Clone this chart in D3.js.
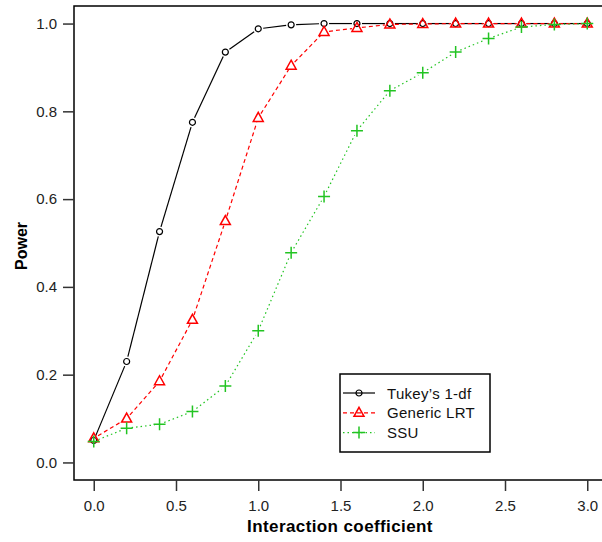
<!DOCTYPE html>
<html>
<head>
<meta charset="utf-8">
<script src="https://cdn.jsdelivr.net/npm/d3@7"></script>
<style>
  body { margin: 0; background: #fff; }
  svg { font-family: "Liberation Sans", Arial, sans-serif; }
</style>
</head>
<body>
<svg width="602" height="542"></svg>
<script>
// data
const coef = [0, 0.2, 0.4, 0.6, 0.8, 1.0, 1.2, 1.4, 1.6, 1.8, 2.0, 2.2, 2.4, 2.6, 2.8, 3.0];
const tukey = [0.05, 0.23, 0.526, 0.775, 0.935, 0.988, 0.997, 1.0, 1.0, 1.0, 1.0, 1.0, 1.0, 1.0, 1.0, 1.0];
const lrt = [0.055, 0.10, 0.185, 0.325, 0.55, 0.785, 0.904, 0.981, 0.99, 0.998, 0.999, 1.0, 1.0, 1.0, 1.0, 1.0];
const ssu = [0.048, 0.078, 0.087, 0.116, 0.174, 0.30, 0.478, 0.606, 0.756, 0.847, 0.888, 0.935, 0.966, 0.992, 0.998, 1.0];
const xTicks = [0, 0.5, 1.0, 1.5, 2.0, 2.5, 3.0];
const yTicks = [0, 0.2, 0.4, 0.6, 0.8, 1.0];
const legendNames = ["Tukey\u2019s 1-df", "Generic LRT", "SSU"];

const svg = d3.select('svg');
const box = { left: 74, top: 6, right: 607, bottom: 480 };

const x = d3.scaleLinear().domain([-0.12, 3.12]).range([box.left, box.right]);
const y = d3.scaleLinear().domain([-0.04, 1.04]).range([box.bottom, box.top]);

const series = [
  { name: legendNames[0], values: tukey, color: '#000', dash: null, shape: 'circle' },
  { name: legendNames[1], values: lrt, color: '#ff0000', dash: '4,3', shape: 'triangle' },
  { name: legendNames[2], values: ssu, color: '#22c422', dash: '1.5,3', shape: 'plus' }
];

// frame
svg.append('rect')
  .attr('x', box.left).attr('y', box.top)
  .attr('width', box.right - box.left).attr('height', box.bottom - box.top)
  .attr('fill', 'none').attr('stroke', '#000').attr('stroke-width', 1.5);

// axes
const xAxis = svg.append('g')
  .attr('transform', `translate(0,${box.bottom})`)
  .call(d3.axisBottom(x).tickValues(xTicks).tickFormat(d3.format('.1f')).tickSizeOuter(0).tickSize(11).tickPadding(6));
const yAxis = svg.append('g')
  .attr('transform', `translate(${box.left},0)`)
  .call(d3.axisLeft(y).tickValues(yTicks).tickFormat(d3.format('.1f')).tickSizeOuter(0).tickSize(11).tickPadding(6));
[xAxis, yAxis].forEach((a) => {
  a.select('.domain').remove();
  a.selectAll('line').attr('stroke', '#333').attr('stroke-width', 1.5);
  a.selectAll('text').attr('font-size', 15).attr('fill', '#222')
    .attr('font-family', '"Liberation Sans", Arial, sans-serif');
});
xAxis.selectAll('text').attr('dy', '0.9em');

svg.append('text')
  .attr('x', 340).attr('y', 532)
  .attr('text-anchor', 'middle').attr('font-size', 17).attr('font-weight', 'bold')
  .attr('letter-spacing', 0.4)
  .text('Interaction coefficient');
svg.append('text')
  .attr('transform', `translate(27,246) rotate(-90)`)
  .attr('text-anchor', 'middle').attr('font-size', 16).attr('font-weight', 'bold')
  .text('Power');

// marker drawing
function marker(g, shape, color) {
  if (shape === 'circle') {
    g.append('circle').attr('r', 3).attr('fill', 'none').attr('stroke', color).attr('stroke-width', 1.2);
  } else if (shape === 'triangle') {
    g.append('path').attr('d', 'M0,-5.5L5,3.5L-5,3.5Z').attr('fill', 'none')
      .attr('stroke', color).attr('stroke-width', 1.5);
  } else {
    g.append('path').attr('d', 'M-6,0H6M0,-6V6').attr('stroke', color).attr('stroke-width', 1.5);
  }
}

// series: segments with gaps at the points (type = "b")
const gap = 5;
series.forEach((s) => {
  const pts = coef.map((c, i) => [x(c), y(s.values[i])]);
  const g = svg.append('g');
  for (let i = 0; i < pts.length - 1; i++) {
    const [x0, y0] = pts[i];
    const [x1, y1] = pts[i + 1];
    const len = Math.hypot(x1 - x0, y1 - y0);
    if (len <= 2 * gap) continue;
    const ux = (x1 - x0) / len, uy = (y1 - y0) / len;
    g.append('line')
      .attr('x1', x0 + ux * gap).attr('y1', y0 + uy * gap)
      .attr('x2', x1 - ux * gap).attr('y2', y1 - uy * gap)
      .attr('stroke', s.color).attr('stroke-width', 1.2)
      .attr('stroke-dasharray', s.dash);
  }
  pts.forEach((p) => marker(g.append('g').attr('transform', `translate(${p})`), s.shape, s.color));
});

// legend
const leg = svg.append('g');
leg.append('rect').attr('x', 340).attr('y', 374).attr('width', 150).attr('height', 78)
  .attr('fill', '#fff').attr('stroke', '#000').attr('stroke-width', 1.5);
series.forEach((s, i) => {
  const ly = 393 + i * 19.8;
  leg.append('line').attr('x1', 343).attr('x2', 375).attr('y1', ly).attr('y2', ly)
    .attr('stroke', s.color).attr('stroke-width', 1.2).attr('stroke-dasharray', s.dash);
  marker(leg.append('g').attr('transform', `translate(359,${ly})`), s.shape, s.color);
  leg.append('text').attr('x', 387).attr('y', ly + 5.5).attr('font-size', 15).attr('fill', '#111')
    .attr('letter-spacing', 0.3)
    .text(s.name);
});
</script>
</body>
</html>
